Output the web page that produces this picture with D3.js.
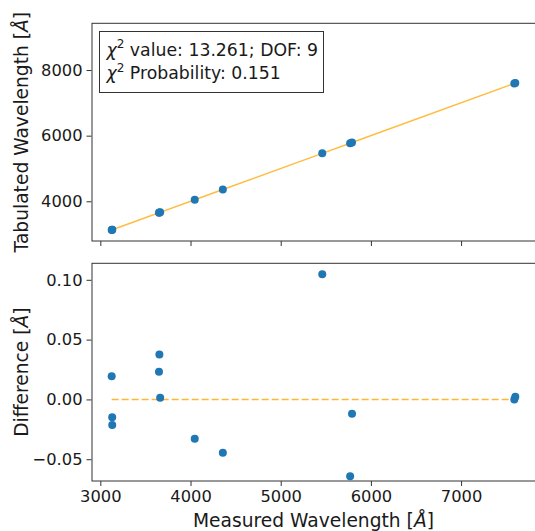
<!DOCTYPE html>
<html>
<script src="https://d3js.org/d3.v7.min.js"></script>
<style>
    body {
        margin: 0;
        background: white;
    }

    text {
        font-family: "DejaVu Sans", sans-serif;
        fill: #1a1a1a;
    }

    .domain {
        display: none;
    }

    .tick line {
        stroke: #333;
    }

    .tick text {
        font-size: 16.3px;
    }
</style>

<body>
</body>
<script>
    // measured vs tabulated arc lines, plus fit residuals
    const measured = [3125.7, 3131.5, 3131.8, 3650.2, 3654.8, 3663.3, 4046.6, 4358.3, 5460.7, 5769.6, 5790.7, 7590, 7601];
    const tabulated = [3125.7, 3131.5, 3131.8, 3650.2, 3654.8, 3663.3, 4046.6, 4358.3, 5460.7, 5769.6, 5790.7, 7590, 7601];
    const difference = [0.0194, -0.0149, -0.0214, 0.0231, 0.0376, 0.0014, -0.0329, -0.0446, 0.1047, -0.0642, -0.0120, 0.0000, 0.0023];
    const xTicks = [3000, 4000, 5000, 6000, 7000];
    const topTicks = [4000, 6000, 8000];
    const bottomTicks = [-0.05, 0, 0.05, 0.10];
    const chiText = " value: 13.261; DOF: 9";
    const probText = " Probability: 0.151";

    const width = 535,
        height = 531;
    const left = 91.5,
        right = 535.4;
    const top1 = 23.3,
        bot1 = 241,
        top2 = 263.3,
        bot2 = 481;

    const data = measured.map((m, i) => ({
        m: m,
        t: tabulated[i],
        d: difference[i]
    }));

    const svg = d3.select("body").append("svg").attr("width", width).attr("height", height);

    const x = d3.scaleLinear().domain([2902, 7824]).range([left, right]);
    const y1 = d3.scaleLinear().domain([2790, 9424]).range([bot1, top1]);
    const y2 = d3.scaleLinear().domain([-0.0682, 0.1138]).range([bot2, top2]);

    const blue = "#1f77b4",
        orange = "#ffa500";

    // ---- top panel
    svg.append("g")
        .attr("transform", `translate(0,${bot1})`)
        .call(d3.axisBottom(x).tickValues(xTicks).tickSize(5).tickFormat(""));
    svg.append("g")
        .attr("transform", `translate(${left},0)`)
        .call(d3.axisLeft(y1).tickValues(topTicks).tickSize(5).tickPadding(4).tickFormat(d3.format("d")));

    const sorted = data.slice().sort((a, b) => a.m - b.m);
    svg.append("path")
        .datum(sorted)
        .attr("fill", "none")
        .attr("stroke", orange)
        .attr("stroke-opacity", 0.75)
        .attr("stroke-width", 1.5)
        .attr("d", d3.line()
            .x(d => x(d.m))
            .y(d => y1(d.t - d.d))
        );
    svg.append("g").selectAll("circle")
        .data(data)
        .join("circle")
        .attr("r", 4)
        .attr("fill", blue)
        .attr("cx", d => x(d.m))
        .attr("cy", d => y1(d.t));

    svg.append("rect")
        .attr("x", left + 0.5)
        .attr("y", top1)
        .attr("width", right - left)
        .attr("height", bot1 - top1)
        .attr("fill", "none")
        .attr("stroke", "#333")
        .attr("stroke-width", 1);

    // stats box
    svg.append("rect")
        .attr("x", 99.5)
        .attr("y", 31.5)
        .attr("width", 224)
        .attr("height", 61)
        .attr("fill", "white")
        .attr("stroke", "#333")
        .attr("stroke-width", 1);

    function chiLine(yPos, rest) {
        const t = svg.append("text")
            .attr("x", 106.5)
            .attr("y", yPos)
            .attr("font-size", 17.3);
        t.append("tspan").attr("font-style", "italic").text("χ");
        t.append("tspan").attr("font-size", 12).attr("dy", -7.5).text("2");
        t.append("tspan").attr("dy", 7.5).text(rest);
    }
    chiLine(55.5, chiText);
    chiLine(79, probText);

    svg.append("text")
        .attr("transform", `translate(28,${(top1 + bot1) / 2}) rotate(-90)`)
        .attr("text-anchor", "middle")
        .attr("font-size", 18.67)
        .html('Tabulated Wavelength [<tspan font-style="italic">Å</tspan>]');

    // ---- bottom panel
    svg.append("g")
        .attr("transform", `translate(0,${bot2})`)
        .call(d3.axisBottom(x).tickValues(xTicks).tickSize(5).tickPadding(4).tickFormat(d3.format("d")));
    svg.append("g")
        .attr("transform", `translate(${left},0)`)
        .call(d3.axisLeft(y2).tickValues(bottomTicks).tickSize(5).tickPadding(4)
            .tickFormat(d => d3.format(".2f")(d).replace("-", "−")));

    svg.append("line")
        .attr("x1", x(d3.min(measured)))
        .attr("x2", x(d3.max(measured)))
        .attr("y1", y2(0))
        .attr("y2", y2(0))
        .attr("stroke", orange)
        .attr("stroke-opacity", 0.8)
        .attr("stroke-width", 1.5)
        .attr("stroke-dasharray", "7,3");

    svg.append("g").selectAll("circle")
        .data(data)
        .join("circle")
        .attr("r", 4)
        .attr("fill", blue)
        .attr("cx", d => x(d.m))
        .attr("cy", d => y2(d.d));

    svg.append("rect")
        .attr("x", left + 0.5)
        .attr("y", top2)
        .attr("width", right - left)
        .attr("height", bot2 - top2)
        .attr("fill", "none")
        .attr("stroke", "#333")
        .attr("stroke-width", 1);

    svg.append("text")
        .attr("transform", `translate(28,${(top2 + bot2) / 2}) rotate(-90)`)
        .attr("text-anchor", "middle")
        .attr("font-size", 18.67)
        .html('Difference [<tspan font-style="italic">Å</tspan>]');

    svg.append("text")
        .attr("x", (left + right) / 2)
        .attr("y", 527)
        .attr("text-anchor", "middle")
        .attr("font-size", 18.67)
        .html('Measured Wavelength [<tspan font-style="italic">Å</tspan>]');
</script>

</html>
